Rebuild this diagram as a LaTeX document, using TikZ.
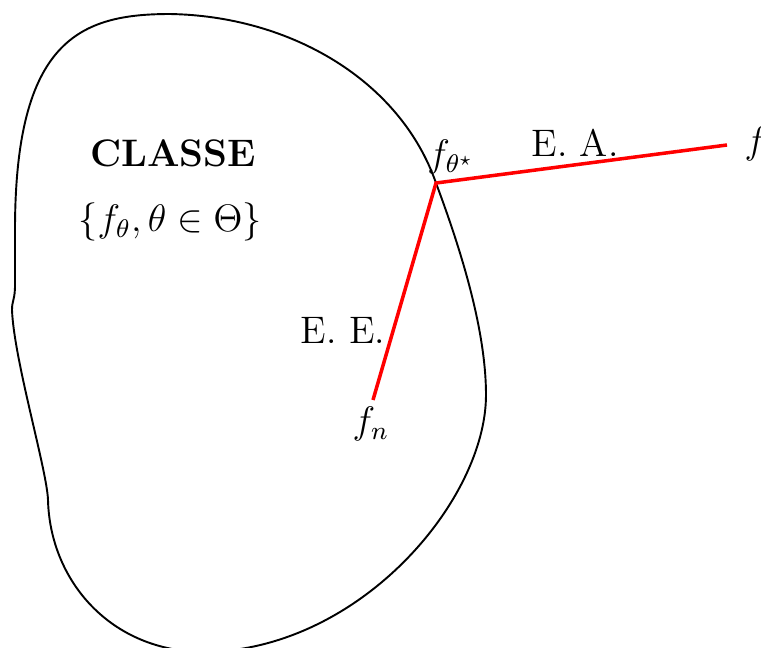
\documentclass[tikz,border=0pt]{standalone}
\usepackage{amsmath,amssymb}
\usepackage{tikz}
\usetikzlibrary{positioning}
\definecolor{errRed}{HTML}{FF0000}

\begin{document}
\begin{tikzpicture}[
  x=0.011cm,y=-0.011cm,
  classe/.style={draw=black, semithick},
  err/.style={draw=errRed, line width=1.1pt},
  lbl/.style={inner sep=1pt, font=\large}
]
\useasboundingbox (0,0) rectangle (761,648);
% the class of models
\draw[classe] (170,14) .. controls (290,16) and (400,80) .. (436,183)
  .. controls (461,250) and (486,330) .. (486,395)
  .. controls (486,500) and (360,650) .. (205,652)
  .. controls (110,652) and (50,580) .. (48,500)
  .. controls (47,470) and (14,360) .. (12,310)
  .. controls (12,300) and (15,300) .. (15,285)
  -- (15,230)
  .. controls (15,40) and (80,14) .. cycle;
\node[lbl, font=\large\bfseries] (classe) at (173,153) {CLASSE};
\node[lbl] (param) at (170,222) {$\{f_\theta,\theta\in\Theta\}$};
% estimation and approximation errors
\coordinate (star) at (436,183);
\coordinate (ftrue) at (727,145);
\coordinate (fn) at (373,400);
\draw[err] (fn) -- (star) -- (ftrue);
\node[lbl] (lstar) at (451,157) {$f_{\theta^\star}$};
\node[lbl] (lf) at (756,144) {$f$};
\node[lbl] (lfn) at (371,424) {$f_n$};
\node[lbl] (ea) at (575,143) {E. A.};
\node[lbl] (ee) at (343,330) {E. E.};
\end{tikzpicture}
\end{document}
